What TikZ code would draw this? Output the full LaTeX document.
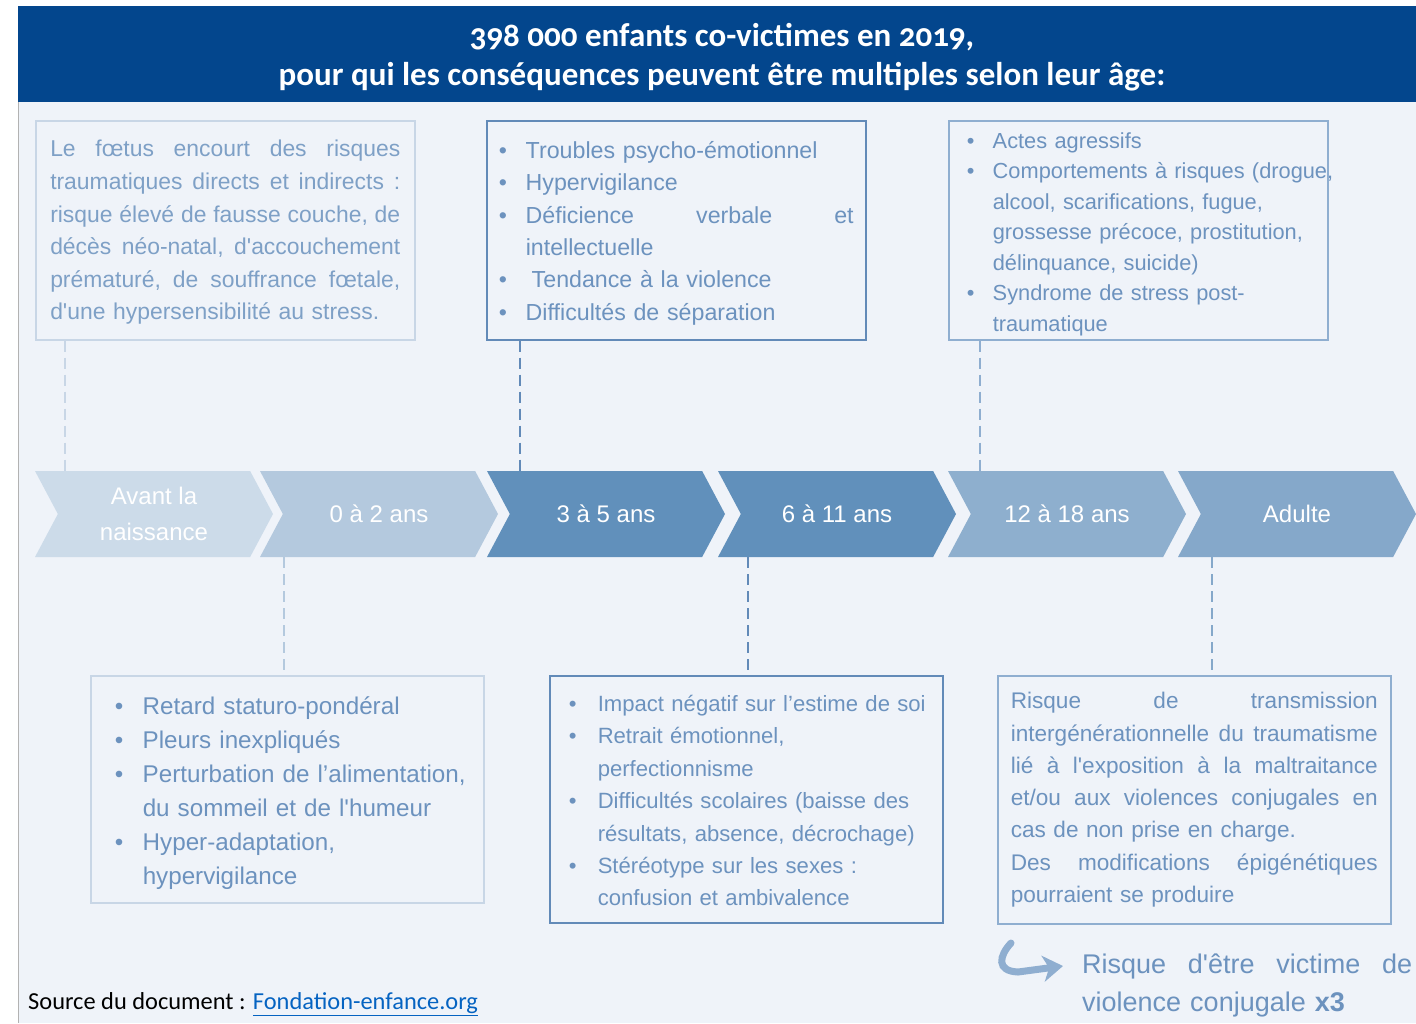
\documentclass[tikz,border=0pt]{standalone}
\usepackage{fontspec}
\setmainfont{Liberation Sans}
\newfontfamily\calfont[Numbers=OldStyle]{Carlito}
\usetikzlibrary{shapes.symbols,arrows.meta}
\setlength\parindent{0pt}
\setlength\parskip{0pt}
\definecolor{headblue}{RGB}{3,70,141}
\definecolor{bgblue}{RGB}{239,243,249}
\definecolor{txtblue}{RGB}{108,146,190}
\definecolor{paleblue}{RGB}{126,160,198}
\definecolor{chevA}{RGB}{204,219,233}
\definecolor{chevB}{RGB}{180,201,222}
\definecolor{chevC}{RGB}{97,144,187}
\definecolor{chevD}{RGB}{142,175,206}
\definecolor{chevE}{RGB}{133,168,202}
\definecolor{lineA}{RGB}{200,214,230}
\definecolor{lineB}{RGB}{98,138,184}
\definecolor{lineC}{RGB}{143,174,208}
\definecolor{linkblue}{RGB}{5,99,193}
\newlength\bulw
\setlength\bulw{26pt}
\newcommand\bul{\makebox[\bulw][l]{\textbullet}}
\newcommand\ind{\hspace*{\bulw}}
\newcommand\qs{\textquotesingle}
\newcommand\topgap[1]{\rule{0pt}{#1}}
\tikzset{
  infobox/.style={draw, line width=1.5pt, anchor=north west, align=left, inner ysep=0pt, text=txtblue},
  chev/.style={signal, signal to=east, signal from=west, signal pointer angle=124,
    minimum width=238pt, minimum height=86pt, inner sep=0pt, text=white, align=center,
    font=\fontsize{24}{36}\selectfont},
  link/.style={dash pattern=on 11pt off 6pt, line width=2.5pt},
}
\begin{document}
\begin{tikzpicture}[x=1pt,y=-1pt]
    \useasboundingbox (0,0) rectangle (1416,1023);
    % background and title band
    \fill[bgblue] (18,102) rectangle (1416,1023);
    \draw[gray!60, line width=1pt] (18.5,102) -- (18.5,1023);
    \fill[headblue] (18,6) rectangle (1416,102);
    \node[text=white, align=center, font=\calfont\bfseries\fontsize{33}{39}\selectfont] (title) at (722,57)
        {398 000 enfants co-victimes en 2019,\\pour qui les conséquences peuvent être multiples selon leur âge:};

    % upper boxes
    \node[infobox, draw=lineA, text=paleblue, inner xsep=14.5pt, text width=350pt, minimum height=219pt,
        font=\fontsize{22.9}{32.6}\selectfont] (box1) at (35,120)
        {\topgap{21pt}Le\hfill fœtus\hfill encourt\hfill des\hfill risques\\
         traumatiques\hfill directs\hfill et\hfill indirects\hfill :\\
         risque\hfill élevé\hfill de\hfill fausse\hfill couche,\hfill de\\
         décès\hfill néo-natal,\hfill d\qs accouchement\\
         prématuré,\hfill de\hfill souffrance\hfill fœtale,\\
         d\qs une hypersensibilité au stress.};
    \node[infobox, draw=lineB, inner xsep=12pt, text width=355pt, minimum height=219pt,
        font=\fontsize{23.2}{32.4}\selectfont\setlength\bulw{27pt}] (box2) at (486,120)
        {\topgap{23pt}\bul Troubles psycho-émotionnel\\
         \bul Hypervigilance\\
         \bul Déficience\hfill verbale\hfill et\\
         \ind intellectuelle\\
         \bul\hspace{6pt}Tendance à la violence\\
         \bul Difficultés de séparation};
    \node[infobox, draw=lineC, inner xsep=18pt, text width=343pt, minimum height=219pt,
        font=\fontsize{21.8}{30.5}\selectfont\setlength\bulw{26pt}] (box3) at (948,120)
        {\topgap{24pt}\bul Actes agressifs\\
         \bul \mbox{Comportements à risques (drogue,}\\
         \ind alcool, scarifications, fugue,\\
         \ind \mbox{grossesse précoce, prostitution,}\\
         \ind délinquance, suicide)\\
         \bul Syndrome de stress post-\\
         \ind traumatique};

    % age steps
    \node[chev, fill=chevA] (ch1) at (154,514) {Avant la\\naissance};
    \node[chev, fill=chevB] (ch2) at (379,514) {0 à 2 ans};
    \node[chev, fill=chevC] (ch3) at (606,514) {3 à 5 ans};
    \node[chev, fill=chevC] (ch4) at (837,514) {6 à 11 ans};
    \node[chev, fill=chevD] (ch5) at (1067,514) {12 à 18 ans};
    \node[chev, fill=chevE] (ch6) at (1297,514) {Adulte};

    % lower boxes
    \node[infobox, draw=lineA, inner xsep=24pt, text width=345pt, minimum height=227pt,
        font=\fontsize{24.2}{34}\selectfont\setlength\bulw{28pt}] (box4) at (90,675)
        {\topgap{26pt}\bul Retard staturo-pondéral\\
         \bul Pleurs inexpliqués\\
         \bul \mbox{Perturbation de l’alimentation,}\\
         \ind \mbox{du sommeil et de l\qs humeur}\\
         \bul Hyper-adaptation,\\
         \ind hypervigilance};
    \node[infobox, draw=lineB, inner xsep=19pt, text width=355pt, minimum height=247pt,
        font=\fontsize{22.1}{32.4}\selectfont\setlength\bulw{29pt}] (box5) at (549,675)
        {\topgap{19pt}\bul \mbox{Impact négatif sur l’estime de soi}\\
         \bul Retrait émotionnel,\\
         \ind perfectionnisme\\
         \bul \mbox{Difficultés scolaires (baisse des}\\
         \ind \mbox{résultats, absence, décrochage)}\\
         \bul Stéréotype sur les sexes :\\
         \ind confusion et ambivalence};
    \node[infobox, draw=lineC, inner xsep=13pt, text width=367pt, minimum height=248pt,
        font=\fontsize{22.6}{32.3}\selectfont] (box6) at (997,675)
        {Risque\hfill de\hfill transmission\\
         intergénérationnelle\hfill du\hfill traumatisme\\
         lié\hfill à\hfill l\qs exposition\hfill à\hfill la\hfill maltraitance\\
         et/ou\hfill aux\hfill violences\hfill conjugales\hfill en\\
         cas de non prise en charge.\\
         Des\hfill modifications\hfill épigénétiques\\
         pourraient se produire};

    % dashed links
    \path ([xshift=30pt]box1.south west) coordinate (l1);
    \path ([xshift=34pt]box2.south west) coordinate (l2);
    \path ([xshift=32pt]box3.south west) coordinate (l3);
    \path ([xshift=194pt]box4.north west) coordinate (l4);
    \path ([xshift=199pt]box5.north west) coordinate (l5);
    \path ([xshift=215pt]box6.north west) coordinate (l6);
    \draw[link, lineA] (l1) -- (l1 |- ch1.north);
    \draw[link, lineB] (l2) -- (l2 |- ch3.north);
    \draw[link, lineC] (l3) -- (l3 |- ch5.north);
    \draw[link, chevB] (l4 |- ch2.south) -- (l4);
    \draw[link, lineB] (l5 |- ch4.south) -- (l5);
    \draw[link, chevE] (l6 |- ch6.south) -- (l6);

    % adult risk note
    \draw[lineC, line width=7pt, line cap=round, -{Stealth[length=20pt,width=26pt,inset=6pt]}]
        (1011,943) .. controls (999,956) and (996,971) .. (1018,972) -- (1063,966);
    \node[anchor=north west, text width=330pt, align=left, inner sep=0pt, text=txtblue,
        font=\fontsize{27}{38}\selectfont] (risk) at (1082,954)
        {Risque\hfill d\qs être\hfill victime\hfill de\\violence conjugale \textbf{x3}};

    % source
    \node[anchor=west, inner sep=0pt, font=\calfont\fontsize{24.4}{28}\selectfont] (src) at (28,1004)
        {Source du document : \textcolor{linkblue}{\underline{Fondation-enfance.org}}};
\end{tikzpicture}
\end{document}
